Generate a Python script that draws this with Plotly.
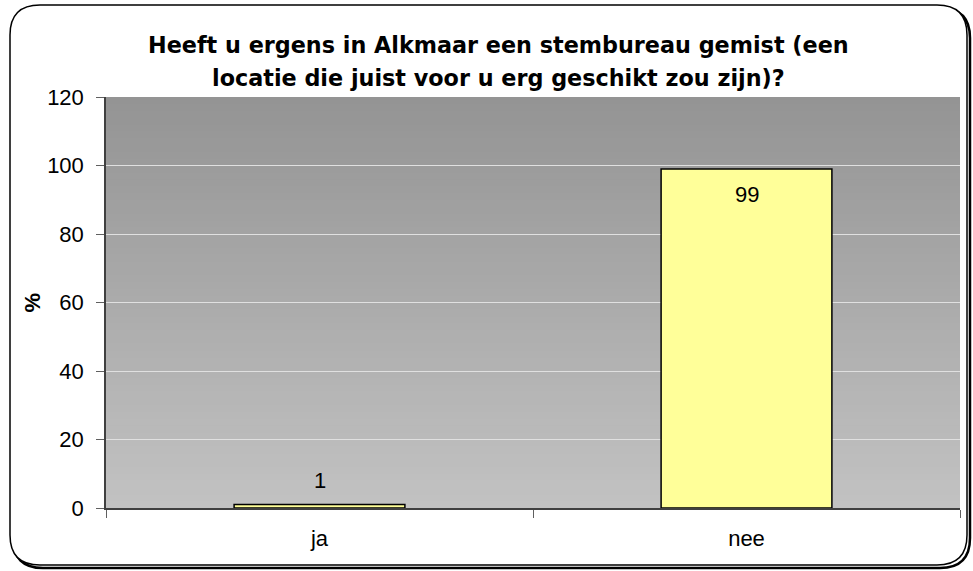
import plotly.graph_objects as go

# data
categories = ["ja", "nee"]
percentages = [1, 99]
title_lines = [
    "Heeft u ergens in Alkmaar een stembureau gemist (een",
    "locatie die juist voor u erg geschikt zou zijn)?",
]

W, H = 973, 571
L, R, T, B = 106, 960, 97, 508  # plot area in pixels


def px_to_paper(x, y):
    return (x - L) / (R - L), (B - y) / (B - T)


def rounded_path(x0, y0, x1, y1, r):
    pts = [
        ("M", x0 + r, y0), ("L", x1 - r, y0), ("Q", x1, y0, x1, y0 + r),
        ("L", x1, y1 - r), ("Q", x1, y1, x1 - r, y1), ("L", x0 + r, y1),
        ("Q", x0, y1, x0, y1 - r), ("L", x0, y0 + r), ("Q", x0, y0, x0 + r, y0),
    ]
    parts = []
    for p in pts:
        cmd, coords = p[0], p[1:]
        conv = []
        for i in range(0, len(coords), 2):
            a, b = px_to_paper(coords[i], coords[i + 1])
            conv.append(f"{a:.5f},{b:.5f}")
        parts.append(cmd + " ".join(conv))
    return " ".join(parts) + " Z"


fig = go.Figure()
fig.add_trace(go.Bar(
    x=categories, y=percentages,
    width=0.4,
    marker=dict(color="#ffff99", line=dict(color="#000000", width=1.5)),
    hoverinfo="x+y",
))

shapes = []
# frame with shadow
shapes.append(dict(type="path", xref="paper", yref="paper",
                   path=rounded_path(13, 8, 970, 568, 30),
                   line=dict(color="#000000", width=2.5), layer="below"))
shapes.append(dict(type="path", xref="paper", yref="paper",
                   path=rounded_path(10, 5, 967, 565, 30),
                   fillcolor="#ffffff", line=dict(color="#000000", width=1.5),
                   layer="below"))

# gradient plot background (dark at top, light at bottom)
n = 60
top_c, bot_c = 148, 194
for i in range(n):
    f = i / (n - 1)
    g = int(round(bot_c + (top_c - bot_c) * f))
    shapes.append(dict(type="rect", xref="x domain", yref="y domain",
                       x0=0, x1=1, y0=i / n, y1=min((i + 1) / n + 0.002, 1),
                       fillcolor=f"rgb({g},{g},{g})", line=dict(width=0),
                       layer="below"))

annotations = []
# title, two lines
for i, line in enumerate(title_lines):
    annotations.append(dict(text=line, xref="paper", yref="paper",
                            x=px_to_paper(498, 0)[0], y=px_to_paper(0, 45 + 33 * i)[1],
                            xanchor="center", yanchor="middle", showarrow=False,
                            font=dict(size=22.3, family="DejaVu Sans", weight="bold")))
# axis title
annotations.append(dict(text="%", xref="paper", yref="paper",
                        x=px_to_paper(32, 0)[0], y=0.5, textangle=-90,
                        xanchor="center", yanchor="middle", showarrow=False,
                        font=dict(size=22, weight="bold")))
# data labels
for cat, val in zip(categories, percentages):
    inside = val > 90
    annotations.append(dict(text=str(val), x=cat, y=val, xref="x", yref="y",
                            yanchor="top" if inside else "bottom",
                            yshift=-11 if inside else 10, showarrow=False,
                            font=dict(size=22)))

fig.update_layout(
    width=W, height=H,
    margin=dict(l=L, r=W - R, t=T, b=H - B, autoexpand=False),
    paper_bgcolor="#ffffff",
    plot_bgcolor="rgba(0,0,0,0)",
    font=dict(family="Arial, Liberation Sans", color="#000000"),
    shapes=shapes,
    annotations=annotations,
    showlegend=False,
)
fig.update_yaxes(
    range=[0, 120], dtick=20, tickmode="linear", automargin=False,
    showgrid=True, gridcolor="#e0e0e0", gridwidth=1,
    showline=True, linecolor="#404040", linewidth=1.5,
    ticks="outside", ticklen=8, tickcolor="#606060", ticklabelstandoff=8,
    tickfont=dict(size=22), zeroline=False,
)
fig.update_xaxes(
    showline=True, linecolor="#404040", linewidth=1.5, automargin=False,
    ticks="outside", ticklen=8, tickcolor="#606060", tickson="boundaries",
    ticklabelstandoff=10, tickfont=dict(size=22),
)

fig.write_html("out.html", config={"displayModeBar": False},
               post_script="document.body.style.margin='0px';")
